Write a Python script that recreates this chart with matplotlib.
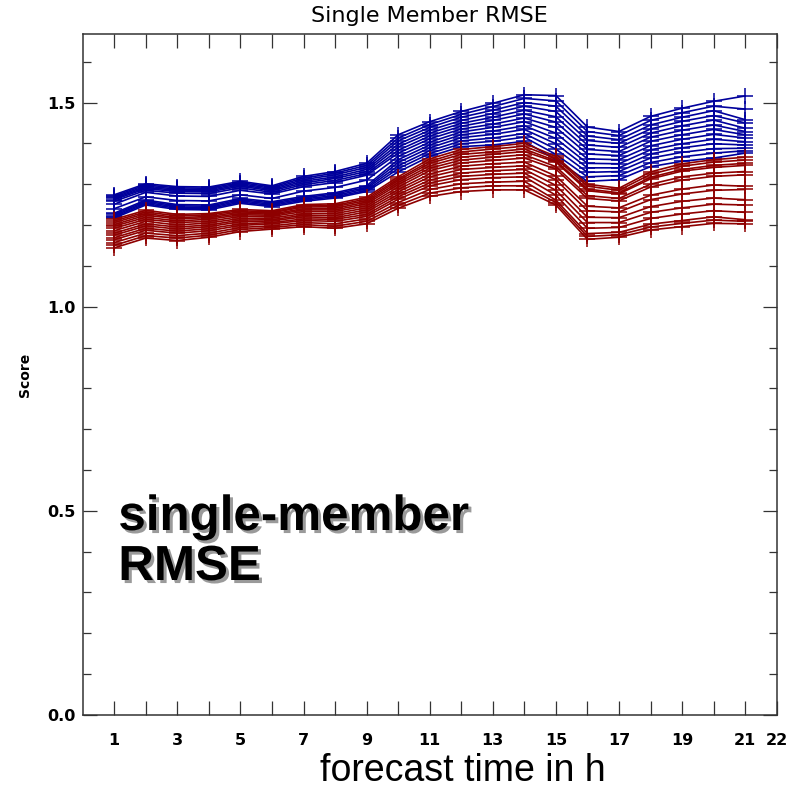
import matplotlib
matplotlib.use("Agg")
import matplotlib.pyplot as plt
import matplotlib.patheffects as pe
from matplotlib.ticker import MultipleLocator
import numpy as np

# forecast lead times (h)
hours = list(range(1, 22))

# single-member RMSE, one row per lead time, one column per ensemble member
blue_scores = [
    [1.274, 1.271, 1.268, 1.265, 1.262, 1.258, 1.251, 1.240, 1.229, 1.226, 1.223, 1.220, 1.217],
    [1.301, 1.298, 1.295, 1.292, 1.289, 1.285, 1.280, 1.269, 1.261, 1.258, 1.255, 1.252, 1.249],
    [1.294, 1.291, 1.288, 1.285, 1.282, 1.278, 1.271, 1.260, 1.250, 1.247, 1.244, 1.241, 1.238],
    [1.293, 1.290, 1.287, 1.284, 1.281, 1.277, 1.270, 1.259, 1.249, 1.246, 1.243, 1.240, 1.237],
    [1.307, 1.304, 1.301, 1.298, 1.295, 1.291, 1.285, 1.274, 1.265, 1.262, 1.259, 1.256, 1.253],
    [1.296, 1.293, 1.290, 1.287, 1.284, 1.280, 1.276, 1.265, 1.257, 1.254, 1.251, 1.248, 1.245],
    [1.319, 1.315, 1.311, 1.307, 1.303, 1.299, 1.294, 1.283, 1.270, 1.267, 1.264, 1.261, 1.258],
    [1.331, 1.327, 1.323, 1.318, 1.314, 1.309, 1.304, 1.292, 1.279, 1.276, 1.272, 1.269, 1.266],
    [1.351, 1.346, 1.341, 1.336, 1.331, 1.326, 1.322, 1.310, 1.296, 1.292, 1.289, 1.285, 1.282],
    [1.421, 1.413, 1.406, 1.398, 1.391, 1.383, 1.376, 1.368, 1.360, 1.353, 1.345, 1.338, 1.330],
    [1.453, 1.446, 1.439, 1.432, 1.425, 1.418, 1.411, 1.403, 1.396, 1.389, 1.382, 1.375, 1.368],
    [1.478, 1.471, 1.464, 1.456, 1.449, 1.442, 1.435, 1.428, 1.421, 1.414, 1.406, 1.399, 1.392],
    [1.498, 1.490, 1.481, 1.473, 1.464, 1.456, 1.447, 1.439, 1.430, 1.422, 1.413, 1.405, 1.396],
    [1.519, 1.510, 1.500, 1.491, 1.481, 1.472, 1.462, 1.453, 1.443, 1.434, 1.424, 1.415, 1.405],
    [1.517, 1.504, 1.491, 1.478, 1.465, 1.452, 1.439, 1.425, 1.412, 1.399, 1.386, 1.373, 1.360],
    [1.440, 1.429, 1.418, 1.407, 1.396, 1.385, 1.374, 1.362, 1.351, 1.340, 1.329, 1.318, 1.307],
    [1.429, 1.419, 1.409, 1.400, 1.390, 1.380, 1.370, 1.360, 1.350, 1.340, 1.331, 1.321, 1.311],
    [1.466, 1.456, 1.445, 1.435, 1.425, 1.415, 1.405, 1.394, 1.384, 1.374, 1.364, 1.353, 1.343],
    [1.486, 1.475, 1.464, 1.454, 1.443, 1.432, 1.421, 1.410, 1.399, 1.389, 1.378, 1.367, 1.356],
    [1.503, 1.491, 1.480, 1.468, 1.457, 1.445, 1.434, 1.422, 1.410, 1.399, 1.387, 1.376, 1.364],
    [1.516, 1.484, 1.458, 1.450, 1.437, 1.429, 1.421, 1.413, 1.404, 1.396, 1.388, 1.382, 1.376],
]

red_scores = [
    [1.214, 1.210, 1.206, 1.201, 1.197, 1.192, 1.186, 1.180, 1.175, 1.169, 1.164, 1.157, 1.150, 1.144],
    [1.236, 1.232, 1.228, 1.224, 1.219, 1.214, 1.209, 1.203, 1.198, 1.192, 1.187, 1.180, 1.174, 1.168],
    [1.226, 1.222, 1.218, 1.215, 1.210, 1.206, 1.200, 1.195, 1.190, 1.185, 1.180, 1.174, 1.168, 1.162],
    [1.228, 1.225, 1.221, 1.218, 1.214, 1.209, 1.205, 1.200, 1.196, 1.191, 1.186, 1.180, 1.175, 1.170],
    [1.238, 1.235, 1.232, 1.228, 1.225, 1.221, 1.216, 1.212, 1.208, 1.203, 1.199, 1.194, 1.189, 1.184],
    [1.235, 1.232, 1.230, 1.227, 1.224, 1.221, 1.217, 1.213, 1.210, 1.206, 1.203, 1.198, 1.194, 1.190],
    [1.250, 1.247, 1.244, 1.240, 1.237, 1.233, 1.228, 1.224, 1.220, 1.215, 1.211, 1.206, 1.201, 1.196],
    [1.252, 1.248, 1.245, 1.241, 1.237, 1.233, 1.228, 1.223, 1.218, 1.214, 1.209, 1.203, 1.197, 1.192],
    [1.268, 1.264, 1.260, 1.256, 1.252, 1.247, 1.242, 1.237, 1.232, 1.226, 1.221, 1.215, 1.209, 1.203],
    [1.318, 1.313, 1.309, 1.304, 1.299, 1.293, 1.287, 1.281, 1.275, 1.269, 1.263, 1.255, 1.248, 1.241],
    [1.362, 1.356, 1.351, 1.345, 1.339, 1.333, 1.325, 1.318, 1.310, 1.303, 1.296, 1.287, 1.278, 1.270],
    [1.385, 1.379, 1.373, 1.366, 1.359, 1.352, 1.344, 1.336, 1.327, 1.319, 1.311, 1.301, 1.291, 1.282],
    [1.392, 1.386, 1.379, 1.373, 1.366, 1.358, 1.350, 1.341, 1.333, 1.324, 1.316, 1.305, 1.296, 1.286],
    [1.400, 1.393, 1.386, 1.380, 1.372, 1.364, 1.354, 1.345, 1.336, 1.327, 1.318, 1.307, 1.296, 1.286],
    [1.368, 1.363, 1.357, 1.354, 1.343, 1.337, 1.320, 1.311, 1.297, 1.285, 1.273, 1.261, 1.255, 1.249],
    [1.300, 1.295, 1.288, 1.284, 1.272, 1.265, 1.246, 1.235, 1.219, 1.206, 1.192, 1.179, 1.172, 1.165],
    [1.290, 1.285, 1.279, 1.276, 1.265, 1.259, 1.242, 1.232, 1.218, 1.206, 1.194, 1.182, 1.176, 1.170],
    [1.330, 1.324, 1.317, 1.313, 1.300, 1.293, 1.273, 1.262, 1.245, 1.231, 1.216, 1.202, 1.195, 1.188],
    [1.350, 1.344, 1.336, 1.332, 1.318, 1.310, 1.288, 1.276, 1.258, 1.242, 1.227, 1.211, 1.204, 1.196],
    [1.360, 1.354, 1.346, 1.341, 1.327, 1.319, 1.298, 1.285, 1.266, 1.251, 1.235, 1.220, 1.212, 1.204],
    [1.366, 1.359, 1.351, 1.346, 1.331, 1.323, 1.295, 1.287, 1.262, 1.249, 1.231, 1.213, 1.209, 1.203],
]

xtick_labels = ['1', '', '3', '', '5', '', '7', '', '9', '', '11', '', '13', '',
                '15', '', '17', '', '19', '', '21', '22']
ytick_labels = ['0.0', '0.5', '1.0', '1.5']

axis_col = '#333333'
blue = '#00009c'
red = '#8e0000'

fig = plt.figure(figsize=(7.89, 7.89), dpi=100)
ax = fig.add_axes([0.1048, 0.0938, 0.8796, 0.8627])

ax.plot(hours, np.array(blue_scores), color=blue, lw=1.2, marker='+',
        markersize=12, mew=1.1)
ax.plot(hours, np.array(red_scores), color=red, lw=1.2, marker='+',
        markersize=12, mew=1.1)

ax.set_xlim(0, 22)
ax.set_ylim(0, 1.667)

ax.set_xticks(range(1, 23))
ax.set_xticklabels(xtick_labels)
ax.set_yticks([0.0, 0.5, 1.0, 1.5])
ax.set_yticklabels(ytick_labels)
ax.yaxis.set_minor_locator(MultipleLocator(0.1))

ax.tick_params(axis='both', which='both', direction='in', top=True, right=True,
               color=axis_col, width=0.9)
ax.tick_params(axis='both', which='major', length=10)
ax.tick_params(axis='y', which='minor', length=5.8)
ax.tick_params(axis='x', which='major', pad=13)
ax.tick_params(axis='y', which='major', pad=5)
for lab in ax.get_xticklabels() + ax.get_yticklabels():
    lab.set_fontsize(11.5)
    lab.set_fontweight('bold')
    lab.set_color('black')

for sp in ax.spines.values():
    sp.set_color(axis_col)
    sp.set_linewidth(1.1)

ax.set_title('Single Member RMSE', fontsize=16, pad=9)
ax.set_ylabel('Score', fontsize=10, fontweight='bold')
ax.yaxis.set_label_coords(-0.073, 0.5)

fig.text(0.586, 0.0101, 'forecast time in h', family='Liberation Sans',
         fontsize=27, ha='center', va='baseline')

shadow = [pe.SimplePatchShadow(offset=(2.2, -2.2), shadow_rgbFace='#9a9a9a', alpha=1.0),
          pe.Normal()]
fig.text(0.150, (789 - 530) / 789, 'single-member', family='Liberation Sans',
         fontsize=35.5, fontweight='bold', ha='left', va='baseline',
         path_effects=shadow)
fig.text(0.150, (789 - 580) / 789, 'RMSE', family='Liberation Sans',
         fontsize=35.5, fontweight='bold', ha='left', va='baseline',
         path_effects=shadow)

fig.savefig('out.png', dpi=100)
